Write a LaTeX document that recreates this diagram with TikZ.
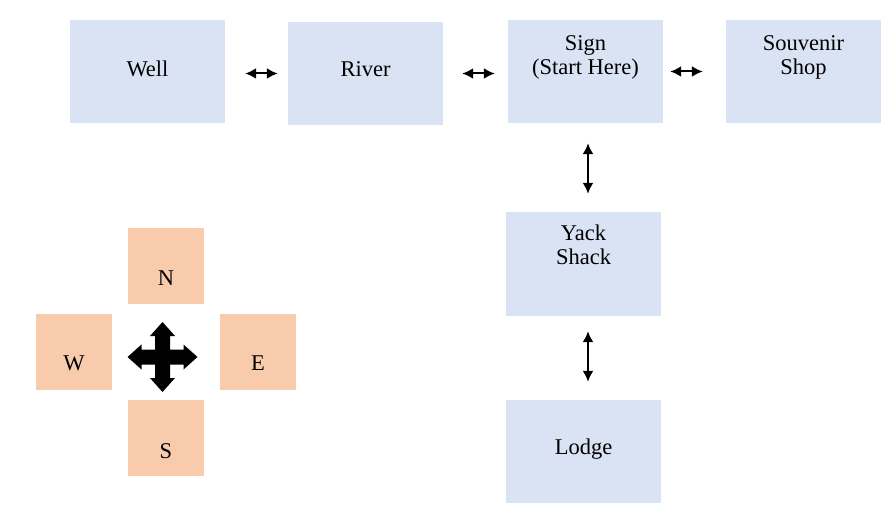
\documentclass[tikz,border=0pt]{standalone}
\usepackage{fontspec}
\setmainfont{Liberation Serif}
\newfontfamily\placefont{Liberation Serif}
\usetikzlibrary{arrows.meta}
\definecolor{placeblue}{HTML}{DAE3F3}
\definecolor{compassorange}{HTML}{F8CBAD}

\begin{document}
\begin{tikzpicture}[x=1pt,y=-1pt,
  place/.style={fill=placeblue, minimum width=155pt, minimum height=103pt, inner sep=0pt},
  heading/.style={fill=compassorange, minimum size=76pt, inner sep=0pt},
  txt/.style={align=center, font=\placefont\fontsize{22.5}{24}\selectfont},
  link/.style={{Latex[length=11pt,width=11pt]}-{Latex[length=11pt,width=11pt]}, line width=2pt}]
 \useasboundingbox (0,0) rectangle (896,526);
 \node[place, label={[txt,yshift=3pt]center:Well}] (well) at (147.5,71.5) {};
 \node[place, label={[txt,yshift=4pt]center:River}] (river) at (365.5,73.5) {};
 \node[place, label={[txt,yshift=14pt]center:{Sign\\(Start Here)}}] (sign) at (585.5,71.5) {};
 \node[place, label={[txt,yshift=14pt]center:{Souvenir\\Shop}}] (shop) at (803.5,71.5) {};
 \node[place, minimum height=104pt,
       label={[txt,yshift=19pt]center:{Yack\\Shack}}] (yack) at (583.5,264) {};
 \node[place, label={[txt,yshift=2pt]center:Lodge}] (lodge) at (583.5,451.5) {};
\draw[link, shorten <=20pt, shorten >=10pt] (well.east |- river.west) -- (river.west);
\draw[link, shorten <=19pt, shorten >=13pt] (river.east) -- (river.east -| sign.west);
\draw[link, shorten <=7pt,  shorten >=23pt] (sign.east) -- (shop.west);
\draw[link, shorten <=20pt, shorten >=18pt] ([xshift=4.5pt]yack.north |- sign.south)
                                         -- ([xshift=4.5pt]yack.north);
\draw[link, shorten <=15pt, shorten >=18pt] ([xshift=4.5pt]yack.south)
                                         -- ([xshift=4.5pt]lodge.north);
 \node[heading, label={[txt,yshift=-12pt]center:N}] (north) at (166,266) {};
 \node[heading, label={[txt,yshift=-11pt]center:W}] (west)  at (74,352) {};
 \node[heading, label={[txt,yshift=-11pt]center:E}] (east)  at (258,352) {};
 \node[heading, label={[txt,yshift=-13pt]center:S}] (south) at (166,438) {};
 \coordinate (hub) at (162.5,357);
\fill[shift={(hub)}] (0,-35) -- (12.5,-21) -- (7.5,-21) -- (7.5,-7.5)
                   -- (21,-7.5) -- (21,-12.5) -- (35,0) -- (21,12.5) -- (21,7.5)
                   -- (7.5,7.5) -- (7.5,21) -- (12.5,21) -- (0,35) -- (-12.5,21)
                   -- (-7.5,21) -- (-7.5,7.5) -- (-21,7.5) -- (-21,12.5) -- (-35,0)
                   -- (-21,-12.5) -- (-21,-7.5) -- (-7.5,-7.5) -- (-7.5,-21)
                   -- (-12.5,-21) -- cycle;
\end{tikzpicture}
\end{document}
